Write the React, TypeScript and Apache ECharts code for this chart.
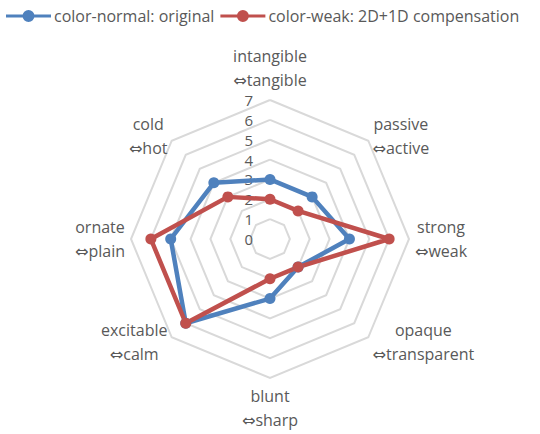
import React, { useEffect, useRef } from "react";
import * as echarts from "echarts";

// Clockwise order starting from the top axis
const leftWords = ["intangible", "passive", "strong", "opaque", "blunt", "excitable", "ornate", "cold"];
const rightWords = ["tangible", "active", "weak", "transparent", "sharp", "calm", "plain", "hot"];
const normalValues = [3, 3, 4, 2, 3, 6, 5, 4];
const weakValues = [2, 2, 6, 2, 2, 6, 6, 3];
const seriesNames = ["color-normal: original", "color-weak: 2D+1D compensation"];
const axisMin = 0;
const axisMax = 7;

// ECharts radar runs counter-clockwise; reorder so the picture runs clockwise
const order = [0, 7, 6, 5, 4, 3, 2, 1];
const reorder = <T,>(arr: T[]) => order.map((i) => arr[i]);

const FONT = "'Open Sans', 'DejaVu Sans', sans-serif";
const TEXT = "#595959";
const BLUE = "#4f81bd";
const RED = "#c0504d";
const legendIcon =
  "path://M0,4.4H17V7.6H0Z M28,4.4H45V7.6H28Z M16.5,6A6,6 0 1 1 28.5,6A6,6 0 1 1 16.5,6Z";

export default function App() {
  const ref = useRef<HTMLDivElement>(null);
  useEffect(() => {
    if (!ref.current) return;
    const chart = echarts.init(ref.current, undefined, { renderer: "svg" });
    const names = leftWords.map((w, i) => `${w}\n⇔${rightWords[i]}`);
    const indicator = reorder(names).map((name, i) => {
      const ind: any = { name, min: axisMin, max: axisMax };
      if (i === 0) {
        ind.axisLabel = {
          show: true,
          fontSize: 15,
          lineHeight: 17,
          fontFamily: FONT,
          color: TEXT,
          margin: 17,
        };
      }
      return ind;
    });
    chart.setOption({
      animation: false,
      textStyle: { fontFamily: FONT },
      legend: {
        left: 6,
        top: 8,
        padding: 0,
        itemWidth: 45,
        itemHeight: 12,
        itemGap: 6,
        textStyle: { fontSize: 16, color: TEXT, fontFamily: FONT, padding: [0, 0, 0, -2] },
        data: seriesNames.map((n) => ({ name: n, icon: legendIcon })),
      },
      radar: {
        center: [270, 239],
        radius: 139,
        startAngle: 90,
        splitNumber: axisMax - axisMin,
        shape: "polygon",
        indicator,
        axisNameGap: 6,
        axisName: {
          color: TEXT,
          fontSize: 16,
          fontFamily: FONT,
          lineHeight: 24,
          formatter: (name: string) =>
            name
              .split("\n")
              .map((l) => `{c|${l}}`)
              .join("\n"),
          rich: {
            c: { align: "center", fontSize: 16, fontFamily: FONT, color: TEXT, lineHeight: 24 },
          },
        },
        axisLine: { show: false },
        axisTick: { show: false },
        splitArea: { show: false },
        splitLine: { lineStyle: { color: "#d9d9d9", width: 2 } },
      },
      series: [
        {
          type: "radar",
          symbol: "circle",
          symbolSize: 11,
          data: [
            {
              name: seriesNames[0],
              value: reorder(normalValues),
              lineStyle: { color: BLUE, width: 4.5 },
              itemStyle: { color: BLUE },
            },
            {
              name: seriesNames[1],
              value: reorder(weakValues),
              lineStyle: { color: RED, width: 4.5 },
              itemStyle: { color: RED },
            },
          ],
        },
      ],
    });
    return () => chart.dispose();
  }, []);
  return (
    <div
      ref={ref}
      style={{ position: "fixed", left: 0, top: 0, width: 540, height: 434, background: "#fff" }}
    />
  );
}
